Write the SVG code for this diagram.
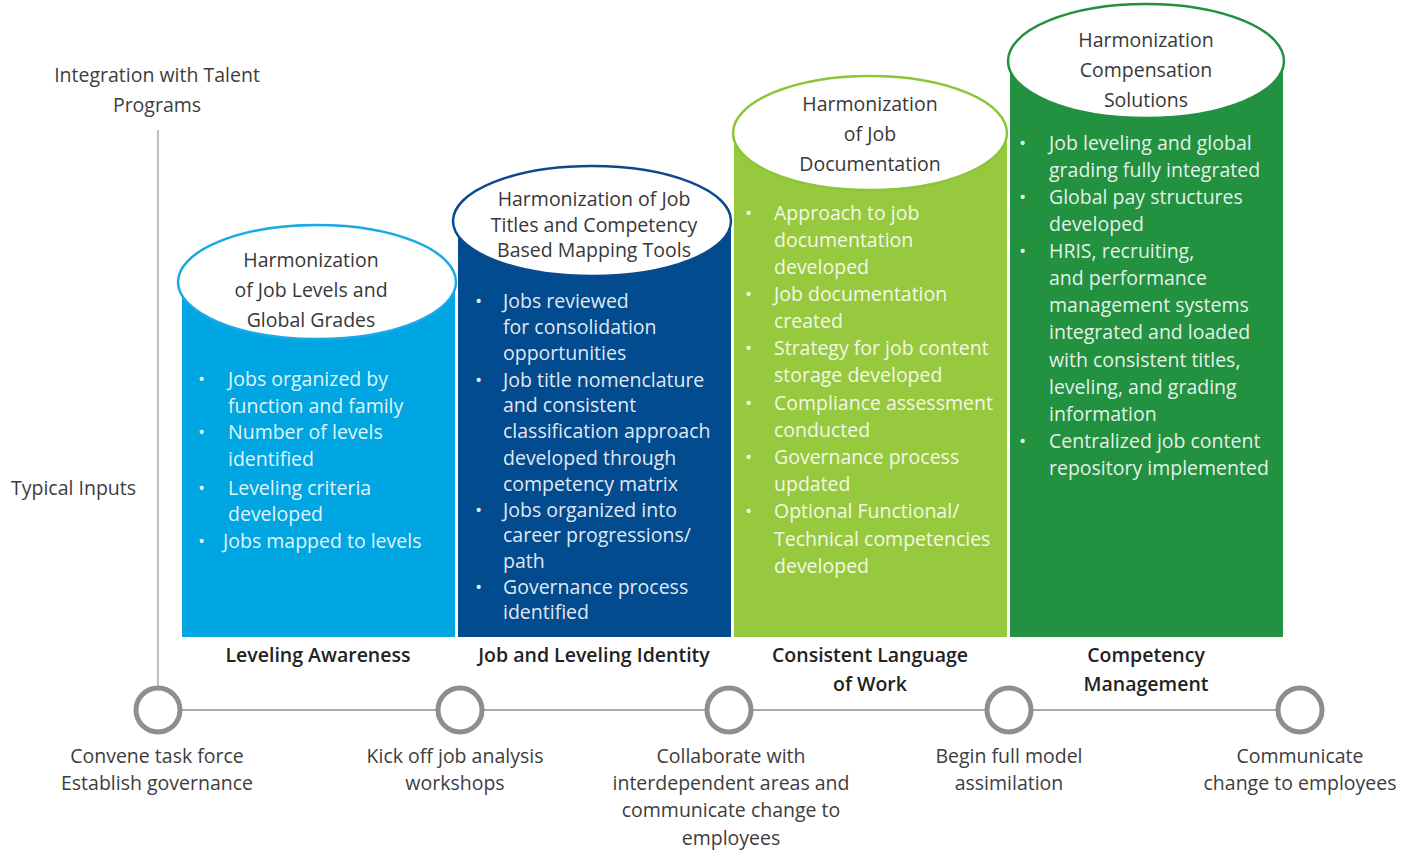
<svg xmlns="http://www.w3.org/2000/svg" width="1416" height="856" viewBox="0 0 1416 856">
  <style>
    text { font-family: "Open Sans", "Liberation Sans", sans-serif; }
    .lbl { font-size: 19.5px; fill: #3d3d3d; text-anchor: middle; }
    .cap { font-size: 19.5px; fill: #383838; text-anchor: middle; }
    .stage { font-size: 19.5px; font-weight: 600; fill: #222; text-anchor: middle; }
    .bul { font-size: 19.5px; fill: #ffffff; fill-opacity: 0.9; }
    .dot { font-size: 19px; fill: #ffffff; fill-opacity: 0.9; }
    .top { fill: #ffffff; stroke-width: 2.5; }
    .ms { fill: #ffffff; stroke: #8e8e90; stroke-width: 5; }
  </style>

  <rect width="1416" height="856" fill="#ffffff"/>

  <!-- axis labels -->
  <g id="axis-labels">
    <text class="lbl" x="157" y="82">Integration with Talent</text>
    <text class="lbl" x="157" y="112">Programs</text>
    <text class="lbl" x="11" y="495" style="text-anchor:start">Typical Inputs</text>
  </g>

  <!-- connectors: vertical axis and timeline -->
  <g id="connectors" stroke="#a9a9ab" fill="none">
    <line x1="158" y1="130" x2="158" y2="688" stroke-width="1.5"/>
    <line x1="158" y1="710" x2="1300" y2="710" stroke-width="2"/>
  </g>

  <!-- column 1 -->
  <g id="col-levels">
    <rect x="182" y="282" width="273" height="355" fill="#00a6e2"/>
    <ellipse class="top" cx="317" cy="282" rx="139" ry="57" stroke="#1aa9e4"/>
    <text class="cap" x="311" y="267">Harmonization</text>
    <text class="cap" x="311" y="297">of Job Levels and</text>
    <text class="cap" x="311" y="327">Global Grades</text>
    <text class="dot" x="198" y="386">•</text><text class="bul" x="228" y="386">Jobs organized by</text>
    <text class="bul" x="228" y="413">function and family</text>
    <text class="dot" x="198" y="439">•</text><text class="bul" x="228" y="439">Number of levels</text>
    <text class="bul" x="228" y="466">identified</text>
    <text class="dot" x="198" y="495">•</text><text class="bul" x="228" y="495">Leveling criteria</text>
    <text class="bul" x="228" y="521">developed</text>
    <text class="dot" x="198" y="548">•</text><text class="bul" x="223" y="548">Jobs mapped to levels</text>
  </g>

  <!-- column 2 -->
  <g id="col-titles">
    <rect x="458" y="221" width="273" height="416" fill="#024b8e"/>
    <ellipse class="top" cx="592" cy="221" rx="139" ry="55" stroke="#0c4a8f"/>
    <text class="cap" x="594" y="206">Harmonization of Job</text>
    <text class="cap" x="594" y="232">Titles and Competency</text>
    <text class="cap" x="594" y="257">Based Mapping Tools</text>
    <text class="dot" x="475" y="308">•</text><text class="bul" x="503" y="308">Jobs reviewed</text>
    <text class="bul" x="503" y="334">for consolidation</text>
    <text class="bul" x="503" y="360">opportunities</text>
    <text class="dot" x="475" y="387">•</text><text class="bul" x="503" y="387">Job title nomenclature</text>
    <text class="bul" x="503" y="412">and consistent</text>
    <text class="bul" x="503" y="438">classification approach</text>
    <text class="bul" x="503" y="465">developed through</text>
    <text class="bul" x="503" y="491">competency matrix</text>
    <text class="dot" x="475" y="517">•</text><text class="bul" x="503" y="517">Jobs organized into</text>
    <text class="bul" x="503" y="542">career progressions/</text>
    <text class="bul" x="503" y="568">path</text>
    <text class="dot" x="475" y="594">•</text><text class="bul" x="503" y="594">Governance process</text>
    <text class="bul" x="503" y="619">identified</text>
  </g>

  <!-- column 3 -->
  <g id="col-documentation">
    <rect x="734" y="133" width="273" height="504" fill="#97c93e"/>
    <ellipse class="top" cx="870" cy="133" rx="137" ry="57" stroke="#8cc43a"/>
    <text class="cap" x="870" y="111">Harmonization</text>
    <text class="cap" x="870" y="141">of Job</text>
    <text class="cap" x="870" y="171">Documentation</text>
    <text class="dot" x="745" y="220">•</text><text class="bul" x="774" y="220">Approach to job</text>
    <text class="bul" x="774" y="247">documentation</text>
    <text class="bul" x="774" y="274">developed</text>
    <text class="dot" x="745" y="301">•</text><text class="bul" x="774" y="301">Job documentation</text>
    <text class="bul" x="774" y="328">created</text>
    <text class="dot" x="745" y="355">•</text><text class="bul" x="774" y="355">Strategy for job content</text>
    <text class="bul" x="774" y="382">storage developed</text>
    <text class="dot" x="745" y="410">•</text><text class="bul" x="774" y="410">Compliance assessment</text>
    <text class="bul" x="774" y="437">conducted</text>
    <text class="dot" x="745" y="464">•</text><text class="bul" x="774" y="464">Governance process</text>
    <text class="bul" x="774" y="491">updated</text>
    <text class="dot" x="745" y="518">•</text><text class="bul" x="774" y="518">Optional Functional/</text>
    <text class="bul" x="774" y="546">Technical competencies</text>
    <text class="bul" x="774" y="573">developed</text>
  </g>

  <!-- column 4 -->
  <g id="col-compensation">
    <rect x="1010" y="61" width="273" height="576" fill="#229140"/>
    <ellipse class="top" cx="1146" cy="61" rx="138" ry="57" stroke="#229140"/>
    <text class="cap" x="1146" y="47">Harmonization</text>
    <text class="cap" x="1146" y="77">Compensation</text>
    <text class="cap" x="1146" y="107">Solutions</text>
    <text class="dot" x="1019" y="150">•</text><text class="bul" x="1049" y="150">Job leveling and global</text>
    <text class="bul" x="1049" y="177">grading fully integrated</text>
    <text class="dot" x="1019" y="204">•</text><text class="bul" x="1049" y="204">Global pay structures</text>
    <text class="bul" x="1049" y="231">developed</text>
    <text class="dot" x="1019" y="258">•</text><text class="bul" x="1049" y="258">HRIS, recruiting,</text>
    <text class="bul" x="1049" y="285">and performance</text>
    <text class="bul" x="1049" y="312">management systems</text>
    <text class="bul" x="1049" y="339">integrated and loaded</text>
    <text class="bul" x="1049" y="367">with consistent titles,</text>
    <text class="bul" x="1049" y="394">leveling, and grading</text>
    <text class="bul" x="1049" y="421">information</text>
    <text class="dot" x="1019" y="448">•</text><text class="bul" x="1049" y="448">Centralized job content</text>
    <text class="bul" x="1049" y="475">repository implemented</text>
  </g>

  <!-- stage names -->
  <g id="stages">
    <text class="stage" x="318" y="662">Leveling Awareness</text>
    <text class="stage" x="594" y="662">Job and Leveling Identity</text>
    <text class="stage" x="870" y="662">Consistent Language</text>
    <text class="stage" x="870" y="691">of Work</text>
    <text class="stage" x="1146" y="662">Competency</text>
    <text class="stage" x="1146" y="691">Management</text>
  </g>

  <!-- milestones -->
  <g id="milestone-1">
    <circle class="ms" cx="158" cy="710" r="22"/>
    <text class="lbl" x="157" y="763">Convene task force</text>
    <text class="lbl" x="157" y="790">Establish governance</text>
  </g>
  <g id="milestone-2">
    <circle class="ms" cx="460" cy="710" r="22"/>
    <text class="lbl" x="455" y="763">Kick off job analysis</text>
    <text class="lbl" x="455" y="790">workshops</text>
  </g>
  <g id="milestone-3">
    <circle class="ms" cx="729" cy="710" r="22"/>
    <text class="lbl" x="731" y="763">Collaborate with</text>
    <text class="lbl" x="731" y="790">interdependent areas and</text>
    <text class="lbl" x="731" y="817">communicate change to</text>
    <text class="lbl" x="731" y="845">employees</text>
  </g>
  <g id="milestone-4">
    <circle class="ms" cx="1009" cy="710" r="22"/>
    <text class="lbl" x="1009" y="763">Begin full model</text>
    <text class="lbl" x="1009" y="790">assimilation</text>
  </g>
  <g id="milestone-5">
    <circle class="ms" cx="1300" cy="710" r="22"/>
    <text class="lbl" x="1300" y="763">Communicate</text>
    <text class="lbl" x="1300" y="790">change to employees</text>
  </g>
</svg>
